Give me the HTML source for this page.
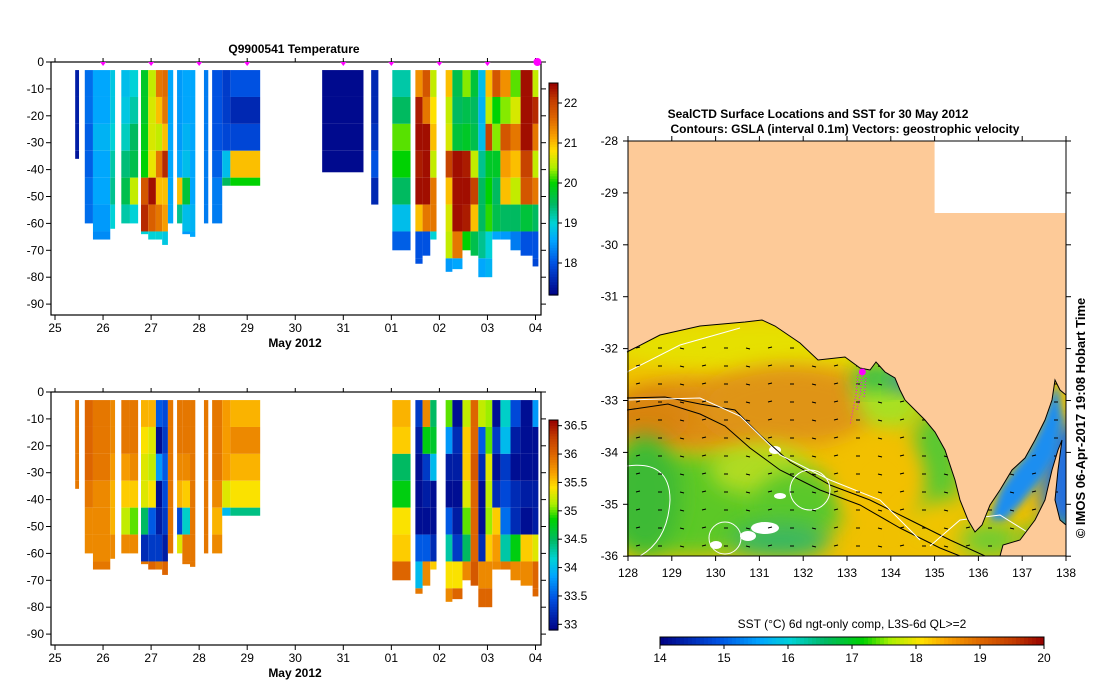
<!DOCTYPE html>
<html><head><meta charset="utf-8">
<style>
html,body{margin:0;padding:0;background:#fff;}
svg{display:block;font-family:"Liberation Sans",sans-serif;}
</style></head>
<body>
<svg id="fig" width="1099" height="700" viewBox="0 0 1099 700">
<defs>
<clipPath id="oceanClip"><path id="oceanPathDef" d="M627,352 L660,335 700,326 745,322 762,320 775,326 800,343 818,360 845,357 860,368 870,370 876,362 885,372 895,378 900,390 905,400 915,410 925,420 935,432 945,450 955,480 960,500 968,520 975,532 982,525 990,505 1000,490 1012,470 1025,458 1035,440 1045,420 1052,400 1055,380 1060,390 1066,395 L1066,556 L627,556 Z"/></clipPath>
<filter id="blur" x="-50%" y="-50%" width="200%" height="200%"><feGaussianBlur stdDeviation="10"/></filter>
<filter id="blur2" x="-50%" y="-50%" width="200%" height="200%"><feGaussianBlur stdDeviation="4"/></filter>
</defs>
<g id="tempPlot"></g>
<g id="salPlot"></g>
<g id="map"></g>
</svg>
<script>
// ---------- Section data (days since 25 May 2012) ----------
const profStart = [0.42,0.62,0.79,1.15,1.38,1.56,1.79,1.94,2.10,2.23,2.35,2.54,2.65,2.81,3.10,3.27,3.48,3.65,5.56,6.58,7.02,7.50,7.65,7.81,8.13,8.27,8.48,8.65,8.81,8.96,9.10,9.27,9.48,9.69,9.94];
const profEnd   = [0.50,0.79,1.15,1.25,1.56,1.73,1.94,2.10,2.23,2.35,2.46,2.65,2.81,2.92,3.19,3.48,3.65,4.27,6.42,6.73,7.40,7.65,7.81,7.94,8.27,8.48,8.65,8.81,8.96,9.10,9.27,9.48,9.69,9.94,10.06];
const profDepth = [36,60,66,62,60,60,64,66,66,68,60,60,64,65,60,60,46,46,41,55,70,75,72,66,78,77,70,72,80,80,66,66,70,72,76];
const tempVals = [
 [17.5,17.5,17.5,17.4],
 [18.2,18.2,18.1,18.1,18.2,18.2],
 [18.6,18.6,18.7,18.6,18.6,18.5,18.4],
 [18.9,18.9,19.0,19.2,19.3,19.0,18.8],
 [18.8,18.9,19.1,19.4,19.6,19.2],
 [19.0,19.2,19.5,19.6,20.5,19.0],
 [19.8,19.8,19.9,20.0,21.8,22.2,19.0],
 [20.5,20.6,20.6,20.7,22.4,21.7,19.0],
 [21.5,21.0,20.5,21.5,21.0,21.5,19.0],
 [21.6,21.5,21.0,22.2,21.0,21.2,18.9],
 [18.6,18.6,18.6,18.6,18.6,18.6],
 [18.5,18.5,18.5,18.6,21.0,19.3],
 [18.6,18.6,18.7,18.8,19.7,18.8,18.5],
 [18.6,18.6,18.6,18.6,18.6,18.7,18.6],
 [18.3,18.3,18.3,18.3,18.3,18.3],
 [18.0,18.0,18.0,18.1,18.3,18.3],
 [17.8,17.8,17.9,18.8,19.5],
 [18.0,17.6,17.9,21.0,20.0],
 [17.3,17.3,17.3,17.3],
 [17.6,17.6,17.7,18.0,17.6],
 [19.2,19.5,20.2,20.0,19.5,18.8,18.1],
 [21.3,22.3,22.4,22.3,22.4,21.0,18.0,18.0],
 [21.8,21.5,22.4,22.4,22.4,21.5,18.0],
 [20.5,20.8,21.0,20.5,21.5,21.5,19.0],
 [21.0,20.5,20.6,22.0,21.0,20.6,20.5,18.5],
 [19.6,19.5,19.7,22.4,22.4,22.4,21.5,18.6],
 [20.3,19.6,19.8,22.3,22.4,22.3,20.0],
 [19.7,19.5,19.6,20.5,22.0,21.0,19.6],
 [18.8,18.7,18.8,19.3,19.5,19.5,19.3,18.6],
 [21.0,20.5,22.0,19.8,20.0,20.1,19.0,18.7],
 [21.8,20.0,20.3,19.8,19.5,19.6,18.6],
 [21.3,20.3,21.8,21.2,21.0,19.5,18.5],
 [20.2,20.6,21.5,21.0,20.5,19.5,18.3],
 [22.4,22.4,22.4,22.0,21.8,19.7,18.0],
 [20.5,22.2,21.5,20.5,21.5,19.5,18.0,17.9]
];
const salVals = [
 [35.9,35.9,35.9,35.9],
 [36.0,36.0,36.0,35.9,35.8,35.8],
 [35.9,35.9,35.9,35.8,35.8,35.8,35.9],
 [35.8,35.8,35.7,35.6,35.6,35.8,35.9],
 [35.9,35.9,35.7,35.5,35.2,35.8],
 [35.9,35.9,35.8,35.5,35.0,35.8],
 [35.6,35.4,35.3,35.3,34.5,33.2,35.9],
 [35.6,35.3,35.2,35.4,33.5,33.3,36.0],
 [33.5,33.0,33.8,33.0,33.1,33.3,35.9],
 [33.4,33.3,33.5,33.4,33.3,33.1,36.0],
 [35.9,35.9,35.9,35.9,35.9,35.9],
 [35.9,35.9,35.8,35.6,33.4,35.3],
 [35.9,35.9,35.8,35.5,34.2,35.9,35.9],
 [35.9,35.9,35.9,35.9,35.9,35.9,35.9],
 [35.9,35.9,35.9,35.9,35.9,35.9],
 [35.9,35.9,35.9,35.8,35.6,35.8],
 [35.7,35.7,35.7,35.3,34.0],
 [35.6,35.8,35.6,35.4,34.4],
 [],
 [],
 [35.6,35.5,34.5,34.8,35.4,35.5,36.0],
 [33.3,33.1,33.0,33.0,33.0,33.5,34.0,35.9],
 [35.8,34.8,33.3,33.1,33.0,33.5,35.8],
 [34.5,34.7,34.0,33.0,33.0,33.2,35.5],
 [35.0,33.8,33.1,33.0,33.5,34.3,35.4,35.8],
 [33.0,33.2,33.1,33.0,33.1,33.3,35.4,36.0],
 [35.2,35.5,35.5,35.3,35.0,34.5,35.8],
 [36.0,36.0,36.1,36.0,36.0,36.0,36.1],
 [35.2,33.5,33.2,33.0,33.0,33.2,35.8,36.0],
 [35.1,35.0,35.3,35.2,35.1,35.5,35.8,36.0],
 [33.0,33.3,33.0,33.2,35.5,35.7,35.8],
 [34.2,34.0,33.3,33.4,33.6,34.3,35.9],
 [33.4,33.1,33.0,33.2,33.2,34.8,35.8],
 [33.0,33.0,33.0,33.1,33.0,35.5,35.8],
 [33.8,33.0,33.0,33.1,33.1,35.3,36.0,36.0]
];
const dayLabels = ["25","26","27","28","29","30","31","01","02","03","04"];
const markerDays = [1,2,3,4,6,7,8,9];
const depthTicks = [0,-10,-20,-30,-40,-50,-60,-70,-80,-90];
const tempTicks = [18,19,20,21,22];
const salTicks = [33,33.5,34,34.5,35,35.5,36,36.5];
const lonTicks = [128,129,130,131,132,133,134,135,136,137,138];
const latTicks = [-28,-29,-30,-31,-32,-33,-34,-35,-36];
const sstTicks = [14,15,16,17,18,19,20];

const NS="http://www.w3.org/2000/svg";
function mk(tag,attrs,parent){const e=document.createElementNS(NS,tag);for(const k in attrs)e.setAttribute(k,attrs[k]);if(parent)parent.appendChild(e);return e;}

const stops=[[0,[0,0,130]],[0.15,[0,80,225]],[0.26,[0,165,255]],[0.34,[0,210,215]],[0.43,[0,185,100]],[0.53,[0,210,0]],[0.6,[170,240,0]],[0.68,[255,225,0]],[0.75,[248,160,0]],[0.84,[220,100,0]],[0.92,[195,60,0]],[1,[150,0,0]]];
function cmap(f){f=Math.max(0,Math.min(1,f));for(let i=1;i<stops.length;i++){if(f<=stops[i][0]){const a=stops[i-1],b=stops[i];const t=(f-a[0])/(b[0]-a[0]);const c=a[1].map((v,k)=>Math.round(v+(b[1][k]-v)*t));return `rgb(${c[0]},${c[1]},${c[2]})`;}}return "rgb(150,0,0)";}

function section(g,top,vals,vmin,vmax,cbTop,cbBot,ticks,tickFmt,title,names){
  const X=d=>55+48.05*d, Y=z=>top+z*2.69;
  const bottom=top+253, left=51, right=541;
  const cells=mk('g',{},g);
  
  
  for(let i=0;i<profStart.length;i++){
    const v=vals[i];
    for(let j=0;j<v.length;j++){
      const z0=3+10*j, z1=Math.min(3+10*(j+1),profDepth[i]);
      if(z1<=z0)continue;
      const r=mk('rect',{x:X(profStart[i]),y:Y(z0),width:Math.max(1,X(profEnd[i])-X(profStart[i])),height:Y(z1)-Y(z0),fill:cmap((v[j]-vmin)/(vmax-vmin))},cells);
      
      
    }
  }
  const frame=mk('rect',{x:left,y:top,width:right-left,height:bottom-top,fill:'none',stroke:'#000','stroke-width':1.2},g);
  
  
  depthTicks.forEach(t=>{const y=Y(-t);
    mk('line',{x1:left-5,x2:left,y1:y,y2:y,stroke:'#000'},g);
    mk('line',{x1:right,x2:right+5,y1:y,y2:y,stroke:'#000'},g);
    const tx=mk('text',{x:left-7,y:y+4,'font-size':12,'text-anchor':'end'},g);tx.textContent=t;
    
    
  });
  dayLabels.forEach((l,i)=>{const x=X(i);
    mk('line',{x1:x,x2:x,y1:top-4,y2:top,stroke:'#000'},g);
    mk('line',{x1:x,x2:x,y1:bottom,y2:bottom+5,stroke:'#000'},g);
    const tx=mk('text',{x:x,y:bottom+17,'font-size':12,'text-anchor':'middle'},g);tx.textContent=l;
    
    
  });
  const xl=mk('text',{x:295,y:bottom+32,'font-size':12,'font-weight':'bold','text-anchor':'middle'},g);xl.textContent='May 2012';
  
  
  if(title){const tt=mk('text',{x:294,y:top-9,'font-size':12,'font-weight':'bold','text-anchor':'middle','xml:space':'preserve'},g);tt.textContent=title;
    
    }
  const cb=mk('g',{},g);
  
  
  const n=80;for(let k=0;k<n;k++){const y0=cbBot-(k+1)*(cbBot-cbTop)/n;mk('rect',{x:549,y:y0,width:9,height:(cbBot-cbTop)/n+0.6,fill:cmap((k+0.5)/n)},cb);}
  mk('rect',{x:549,y:cbTop,width:9,height:cbBot-cbTop,fill:'none',stroke:'#000'},cb);
  ticks.forEach(t=>{const y=cbBot-(t-vmin)/(vmax-vmin)*(cbBot-cbTop);
    mk('line',{x1:558,x2:562,y1:y,y2:y,stroke:'#000'},cb);
    const tx=mk('text',{x:564,y:y+4,'font-size':12},cb);tx.textContent=tickFmt(t);
    
    
  });
  return {X,Y,top};
}
const tp=section(document.getElementById('tempPlot'),62,tempVals,17.2,22.5,83,295,tempTicks,t=>String(t),'Q9900541   Temperature','temperature');
section(document.getElementById('salPlot'),392,salVals,32.9,36.6,420,630,salTicks,t=>String(t),null,'salinity');
const tg=document.getElementById('tempPlot');
markerDays.forEach(d=>{const m=mk('path',{d:`M${tp.X(d)-3},${62} L${tp.X(d)+3},62 L${tp.X(d)},66 Z`,fill:'#f0f'},tg);
  
  });
const cm=mk('circle',{cx:tp.X(10.04),cy:62,r:4,fill:'#f0f'},tg);



// ---------- Map ----------
const mg=document.getElementById('map');
const LX=l=>628+(l-128)*43.8, LY=l=>141+(-28-l)*51.9;
const land=mk('rect',{x:628,y:141,width:438,height:415,fill:'#fdca98'},mg);


const nod=mk('rect',{x:LX(135),y:141,width:LX(138)-LX(135),height:72,fill:'#fff'},mg);


const oc=mk('g',{'clip-path':'url(#oceanClip)'},mg);


mk('rect',{x:627,y:320,width:440,height:240,fill:'#f0c000'},oc);
const blobs=[
 [760,345,160,28,'#e6e000'],[690,415,80,35,'#dd8c14'],[790,405,90,40,'#df9418'],[650,418,40,25,'#d98410'],
 [690,505,100,50,'#5cc828'],[645,495,35,60,'#3cba36'],[760,470,50,25,'#b0dc20'],[800,505,45,35,'#5ac82a'],
 [890,395,35,35,'#a8e020'],[935,470,25,60,'#58c830'],[875,378,22,12,'#28b850'],[905,380,12,10,'#1060e0'],
 [880,480,45,45,'#f2c000'],[945,525,40,25,'#f0c400'],[990,540,30,18,'#70cc30'],[1066,480,25,60,'#2070e0'],
 [780,540,50,18,'#38b860'],[1050,540,30,15,'#40c040']];
blobs.forEach(b=>{const e=mk('ellipse',{cx:b[0],cy:b[1],rx:b[2],ry:b[3],fill:b[4],filter:'url(#blur)'},oc);});
const gulf=mk('path',{d:'M990,520 L1000,490 1015,468 1030,450 1042,425 1052,395 1058,385 1062,420 1055,455 1040,480 1020,505 1005,520 Z',fill:'#1e8ef0',filter:'url(#blur2)'},oc);


[[765,528,14,6],[748,536,8,5],[716,545,6,4],[775,450,6,4],[780,496,6,3]].forEach(c=>{const e=mk('ellipse',{cx:c[0],cy:c[1],rx:c[2],ry:c[3],fill:'#fff'},oc);});
const cont=mk('g',{fill:'none','stroke-width':1},oc);


mk('polyline',{points:'627,398 665,397 700,404 735,410 760,435 790,462 830,485 870,500 910,520 950,540 985,556',stroke:'#000'},cont);
mk('polyline',{points:'627,410 668,404 700,414 725,426 750,448 780,470 820,490 860,505 900,528 940,548 960,556',stroke:'#000'},cont);
mk('polyline',{points:'627,372 680,345 740,328',stroke:'#fff'},cont);
mk('polyline',{points:'627,400 700,398 740,416 780,455 830,480 880,500 920,540',stroke:'#fff'},cont);
mk('polyline',{points:'930,546 960,520 1000,515 1040,540',stroke:'#fff'},cont);
mk('circle',{cx:810,cy:490,r:20,stroke:'#fff'},cont);
mk('circle',{cx:725,cy:538,r:16,stroke:'#fff'},cont);
mk('path',{d:'M627,466 Q670,460 670,500 Q668,540 640,556',stroke:'#fff'},cont);
const vec=mk('g',{stroke:'#000','stroke-width':1},oc);


for(let y=348;y<556;y+=18){for(let x=636;x<1066;x+=22){mk('line',{x1:x,y1:y,x2:x+4,y2:y+((x+y)%3)-1},vec);}}
const coast=mk('path',{d:'M627,352 L660,335 700,326 745,322 762,320 775,326 800,343 818,360 845,357 860,368 870,370 876,362 885,372 895,378 900,390 905,400 915,410 925,420 935,432 945,450 955,480 960,500 968,520 975,532 982,525 990,505 1000,490 1012,470 1025,458 1035,440 1045,420 1052,400 1055,380 1060,390 1066,395',fill:'none',stroke:'#000'},mg);


const yp=mk('path',{d:'M1000,556 L1003,545 1020,540 1035,520 1045,500 1052,470 1058,450 1062,440 1058,470 1055,500 1060,520 1066,525 L1066,556 Z',fill:'#fdca98',stroke:'#000'},mg);


const trk=mk('path',{d:'M858,375 L856,395 853,410 850,425 M862,376 L860,395 857,410 M866,378 L864,398',stroke:'#f0f','stroke-width':1,'stroke-dasharray':'1,2',fill:'none'},mg);


const sp=mk('circle',{cx:LX(133.35),cy:LY(-32.45),r:3.5,fill:'#f0f'},mg);


const mf=mk('rect',{x:628,y:141,width:438,height:415,fill:'none',stroke:'#000'},mg);


lonTicks.forEach(l=>{const x=LX(l);mk('line',{x1:x,x2:x,y1:556,y2:561,stroke:'#000'},mg);mk('line',{x1:x,x2:x,y1:136,y2:141,stroke:'#000'},mg);
  const t=mk('text',{x:x,y:577,'font-size':12,'text-anchor':'middle'},mg);t.textContent=l;
  
  });
latTicks.forEach(l=>{const y=LY(l);mk('line',{x1:623,x2:628,y1:y,y2:y,stroke:'#000'},mg);mk('line',{x1:1066,x2:1071,y1:y,y2:y,stroke:'#000'},mg);
  const t=mk('text',{x:618,y:y+4,'font-size':12,'text-anchor':'end'},mg);t.textContent=l;
  
  });
const t1=mk('text',{x:818,y:118,'font-size':12,'font-weight':'bold','text-anchor':'middle'},mg);t1.textContent='SealCTD Surface Locations and SST for 30 May 2012';


const t2=mk('text',{x:845,y:133,'font-size':12,'font-weight':'bold','text-anchor':'middle'},mg);t2.textContent='Contours: GSLA (interval 0.1m) Vectors: geostrophic velocity';


const cr=mk('text',{x:0,y:0,'font-size':13,'font-weight':'bold','text-anchor':'middle',transform:'translate(1085,418) rotate(-90)'},mg);cr.textContent='© IMOS 06-Apr-2017 19:08 Hobart Time';


const scb=mk('g',{},mg);


const SX=v=>660+(v-14)*64;
for(let k=0;k<96;k++){mk('rect',{x:660+k*4,y:637,width:4.5,height:8,fill:cmap((k+0.5)/96)},scb);}
mk('rect',{x:660,y:637,width:384,height:8,fill:'none',stroke:'#000'},scb);
sstTicks.forEach(v=>{const x=SX(v);mk('line',{x1:x,x2:x,y1:645,y2:649,stroke:'#000'},scb);
  const t=mk('text',{x:x,y:662,'font-size':12,'text-anchor':'middle'},scb);t.textContent=v;
  
  });
const st=mk('text',{x:852,y:628,'font-size':12,'text-anchor':'middle'},scb);st.textContent='SST (°C) 6d ngt-only comp, L3S-6d QL>=2';


</script>
</body></html>
